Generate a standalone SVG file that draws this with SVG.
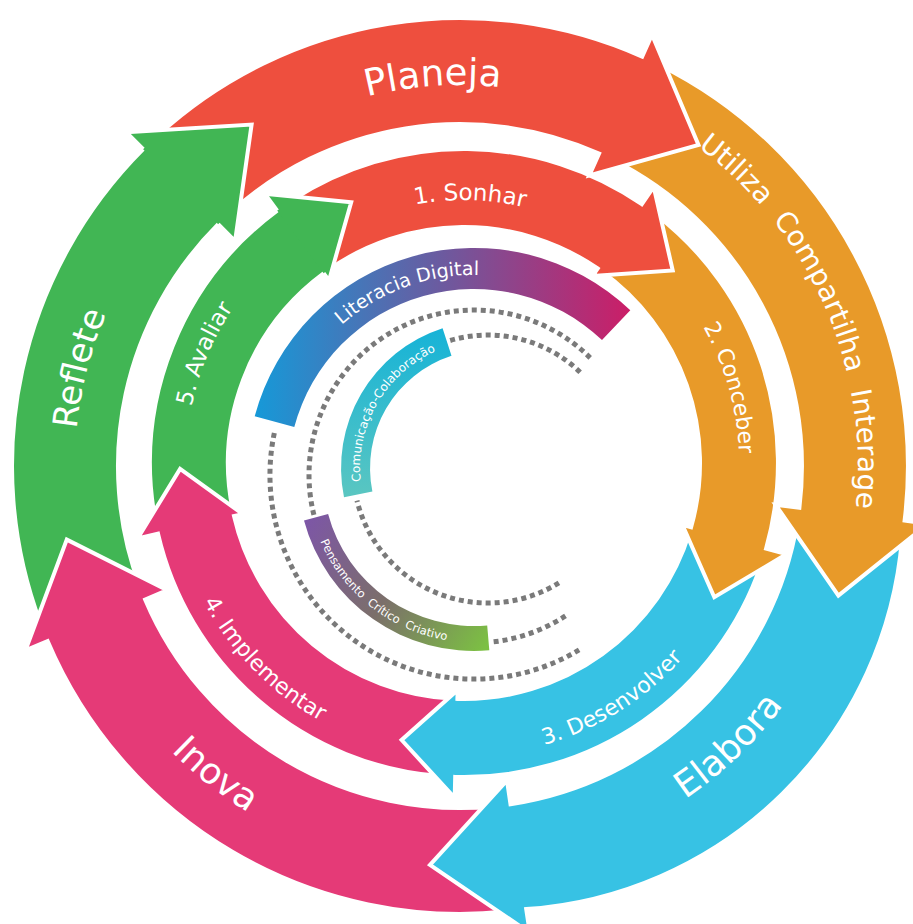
<svg xmlns="http://www.w3.org/2000/svg" width="913" height="924" viewBox="0 0 913 924">
<defs>
<style>
.arr{stroke:#fff;stroke-width:4;stroke-linejoin:miter}
.red{fill:#EE4F3E}.org{fill:#E89A29}.blu{fill:#37C2E4}.pnk{fill:#E53A77}.grn{fill:#41B654}
.lbl{fill:#fff;font-family:"DejaVu Sans","Liberation Sans",sans-serif}
.dot{fill:none;stroke:#7a7a7a;stroke-width:5;stroke-dasharray:5 4}
</style>
<linearGradient id="gLit" gradientUnits="userSpaceOnUse" x1="255" y1="0" x2="630" y2="0">
<stop offset="0" stop-color="#1699d8"/><stop offset="0.5" stop-color="#6c5a9f"/><stop offset="1" stop-color="#cb1e67"/>
</linearGradient>
<linearGradient id="gPen" gradientUnits="userSpaceOnUse" x1="305" y1="520" x2="490" y2="640">
<stop offset="0" stop-color="#7d56a7"/><stop offset="0.5" stop-color="#7b6f6a"/><stop offset="1" stop-color="#7cc043"/>
</linearGradient>
<linearGradient id="gCom" gradientUnits="userSpaceOnUse" x1="0" y1="330" x2="0" y2="497">
<stop offset="0" stop-color="#17b3d7"/><stop offset="1" stop-color="#5ac6c1"/>
</linearGradient>
<path id="tpPlaneja" d="M 93.7 361.0 A 381 381 0 0 1 808.0 311.0"/>
<path id="tpUtiliza" d="M 435.0 68.8 A 398 398 0 0 1 734.5 754.2"/>
<path id="tpReflete" d="M 242.5 783.7 A 385 385 0 0 1 422.4 82.8"/>
<path id="tpInova" d="M 74.7 337.9 A 406 406 0 0 0 672.7 811.8"/>
<path id="tpElabora" d="M 282.5 826.7 A 402 402 0 0 0 827.8 303.8"/>
<path id="tpSonhar" d="M 219.0 367.5 A 263 263 0 0 1 713.1 378.7"/>
<path id="tpConceber" d="M 484.1 188.7 A 275 275 0 0 1 624.9 686.1"/>
<path id="tpDesenvolver" d="M 284.0 694.2 A 293 293 0 0 0 750.5 401.6"/>
<path id="tpImplementar" d="M 197.7 336.0 A 295 295 0 0 0 586.3 731.5"/>
<path id="tpAvaliar" d="M 275.1 667.0 A 278 278 0 0 1 477.6 185.3"/>
<path id="tpLit" d="M 274 475 A 200 200 0 0 1 627.2 346.4"/>
<path id="tpPen" d="M 314.7 423.2 A 167.5 167.5 0 0 0 562.8 617.0"/>
<path id="tpCom" d="M 390.0 550.3 A 128 128 0 0 1 510.2 341.9"/>
</defs>
<rect width="913" height="924" fill="#fff"/>

<g id="connectors">
<path class="dot" d="M 579.1 649.9 A 204 204 0 0 1 275.2 429.1"/>
<path class="dot" d="M 313.9 514.9 A 165 165 0 0 1 592.7 360.4"/>
<path class="dot" d="M 565.5 615.9 A 168 168 0 0 1 493.0 641.9"/>
<path class="dot" d="M 450.2 340.5 A 133 133 0 0 1 582.0 374.0"/>
<path class="dot" d="M 558.9 582.9 A 135 135 0 0 1 357.0 500.7"/>
</g>

<g id="literacia">
<path fill="url(#gLit)" d="M 254.7 416.3 A 227 227 0 0 1 630.3 310.3 L 602.0 340.1 A 186 186 0 0 0 294.3 426.9 Z"/>
<text class="lbl" font-size="19"><textPath href="#tpLit" startOffset="50%" text-anchor="middle">Literacia Digital</textPath></text>
</g>
<g id="pensamento">
<path fill="url(#gPen)" d="M 489.3 650.3 A 176 176 0 0 1 304.0 520.5 L 328.1 514.1 A 151 151 0 0 0 487.2 625.4 Z"/>
<text class="lbl" font-size="11.5"><textPath href="#tpPen" startOffset="50%" text-anchor="middle">Pensamento&#160;&#160;Crítico&#160;&#160;Criativo</textPath></text>
</g>
<g id="comunicacao">
<path fill="url(#gCom)" d="M 344.0 497.3 A 147 147 0 0 1 442.6 328.2 L 451.5 355.8 A 118 118 0 0 0 372.4 491.5 Z"/>
<text class="lbl" font-size="12"><textPath href="#tpCom" startOffset="50%" text-anchor="middle">Comunicação-Colaboração</textPath></text>
</g>

<g id="avaliar">
<path class="arr grn" d="M 154.8 517.5 A 314 314 0 0 1 277.2 210.6 L 264.7 193.7 L 351.2 202.3 L 329.0 280.5 L 323.6 273.3 A 236 236 0 0 0 233.2 512.5 L 189.9 485.5 Z"/>
<text class="lbl" font-size="23"><textPath href="#tpAvaliar" startOffset="50%" text-anchor="middle">5. Avaliar</textPath></text>
</g>
<g id="implementar">
<path class="arr pnk" d="M 439.9 776.1 A 314 314 0 0 1 158.0 533.6 L 137.6 538.4 L 180.1 468.9 L 242.8 514.1 L 234.0 516.1 A 236 236 0 0 0 453.7 698.8 L 419.1 734.3 Z"/>
<text class="lbl" font-size="22"><textPath href="#tpImplementar" startOffset="50%" text-anchor="middle">4. Implementar</textPath></text>
</g>
<g id="desenvolver">
<path class="arr blu" d="M 761.1 564.7 A 314 314 0 0 1 455.2 776.9 L 454.7 797.9 L 401.6 740.0 L 457.7 689.9 L 457.4 698.9 A 236 236 0 0 0 689.9 531.2 L 714.3 577.0 Z"/>
<text class="lbl" font-size="22"><textPath href="#tpDesenvolver" startOffset="50%" text-anchor="middle">3. Desenvolver</textPath></text>
</g>
<g id="conceber">
<path class="arr org" d="M 656.0 214.6 A 314 314 0 0 1 766.1 548.5 L 786.3 554.2 L 714.3 597.2 L 682.4 524.8 L 691.1 527.3 A 236 236 0 0 0 601.0 270.9 L 653.3 263.5 Z"/>
<text class="lbl" font-size="22"><textPath href="#tpConceber" startOffset="50%" text-anchor="middle">2. Conceber</textPath></text>
</g>
<g id="sonhar">
<path class="arr red" d="M 292.1 200.2 A 314 314 0 0 1 641.8 204.2 L 653.7 186.9 L 672.7 270.4 L 592.6 275.9 L 597.7 268.5 A 236 236 0 0 0 327.0 270.9 L 337.9 218.6 Z"/>
<text class="lbl" font-size="23"><textPath href="#tpSonhar" startOffset="50%" text-anchor="middle">1. Sonhar</textPath></text>
</g>
<g id="avaliar-head">
<path class="arr grn" d="M 277.2 210.6 L 264.7 193.7 L 351.2 202.3 L 329.0 280.5 L 323.6 273.3"/>
</g>

<g id="reflete">
<path class="arr grn" d="M 40.4 622.9 A 448 448 0 0 1 143.2 149.2 L 126.2 132.2 L 251.6 124.6 L 235.1 241.1 L 218.2 224.2 A 342 342 0 0 0 139.6 585.8 L 77.2 563.6 Z"/>
<text class="lbl" font-size="34"><textPath href="#tpReflete" startOffset="50%" text-anchor="middle">Reflete</textPath></text>
</g>
<g id="inova">
<path class="arr pnk" d="M 506.1 911.6 A 448 448 0 0 1 47.6 641.0 L 25.5 650.4 L 66.8 539.6 L 167.3 590.2 L 145.2 599.6 A 342 342 0 0 0 495.2 806.2 L 456.6 861.0 Z"/>
<text class="lbl" font-size="36"><textPath href="#tpInova" startOffset="50%" text-anchor="middle">Inova</textPath></text>
</g>
<g id="elabora">
<path class="arr blu" d="M 902.0 539.2 A 405 405 0 0 1 526.2 909.1 L 529.8 932.8 L 430.0 864.9 L 507.0 780.5 L 510.5 804.2 A 342 342 0 0 0 797.4 521.8 L 841.0 570.2 Z"/>
<text class="lbl" font-size="36"><textPath href="#tpElabora" startOffset="50%" text-anchor="middle">Elabora</textPath></text>
</g>
<g id="utiliza">
<path class="arr org" d="M 659.9 65.1 A 448 448 0 0 1 904.6 520.6 L 928.5 523.5 L 838.4 595.6 L 775.6 504.8 L 799.4 507.7 A 342 342 0 0 0 612.6 159.9 L 674.0 134.0 Z"/>
<text class="lbl" font-size="28"><textPath href="#tpUtiliza" startOffset="50%" text-anchor="middle">Utiliza&#160;&#160;Compartilha&#160;&#160;Interage</textPath></text>
</g>
<g id="planeja">
<path class="arr red" d="M 158.5 134.7 A 448 448 0 0 1 642.2 56.7 L 652.0 34.8 L 698.5 144.9 L 589.3 175.5 L 599.1 153.6 A 342 342 0 0 0 229.8 213.1 L 230.6 144.4 Z"/>
<text class="lbl" font-size="37"><textPath href="#tpPlaneja" startOffset="50%" text-anchor="middle">Planeja</textPath></text>
</g>
<g id="reflete-head">
<path class="arr grn" d="M 143.2 149.2 L 126.2 132.2 L 251.6 124.6 L 235.1 241.1 L 218.2 224.2"/>
</g>
</svg>
